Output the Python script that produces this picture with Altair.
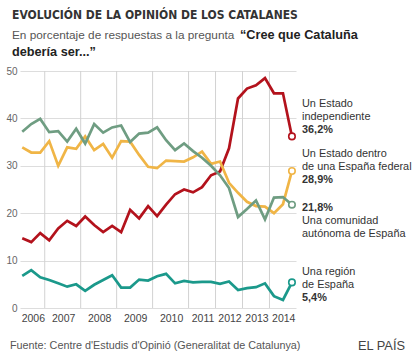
import altair as alt
import pandas as pd

# ---- data ----
survey = list(range(31))
independiente = [14.7, 13.9, 15.8, 14.3, 16.8, 18.4, 17.3, 19.3, 17.5, 16.0, 17.3, 16.0, 20.7, 18.9, 21.5, 19.4,
                 21.8, 24.0, 25.0, 24.4, 25.5, 28.0, 28.8, 33.7, 44.2, 46.3, 47.0, 48.5, 45.3, 45.3, 36.2]
federal = [33.9, 32.8, 32.8, 35.2, 30.0, 33.9, 33.6, 36.2, 33.3, 34.6, 31.7, 35.2, 35.1, 32.3, 29.8, 29.5,
           31.1, 31.0, 30.9, 31.8, 33.0, 30.4, 30.9, 26.4, 24.3, 22.4, 21.5, 21.4, 20.0, 21.9, 28.9]
autonomia = [37.2, 38.8, 39.9, 37.1, 37.3, 35.1, 37.8, 34.7, 38.8, 37.0, 38.1, 38.5, 35.0, 36.8, 37.0, 38.1,
             35.4, 33.3, 34.7, 33.1, 31.7, 30.0, 28.0, 25.3, 19.2, 20.9, 22.7, 18.7, 23.3, 23.4, 21.8]
region = [6.8, 8.0, 6.5, 5.9, 5.2, 4.5, 5.0, 3.6, 4.9, 5.9, 6.9, 4.3, 4.3, 6.0, 5.8, 6.7,
          7.2, 5.2, 5.7, 5.4, 5.5, 5.5, 5.1, 5.6, 3.8, 4.2, 4.4, 5.2, 2.5, 1.7, 5.4]
series_names = ["independiente", "federal", "autonomia", "region"]
series_colors = ["#b3121c", "#f0b546", "#6f9d82", "#1b998b"]
years = ["2006", "2007", "2008", "2009", "2010", "2011", "2012", "2013", "2014"]
year_bounds = [2.5, 6.5, 10.5, 14.5, 18.5, 21.5, 24.5, 27.5]
y_ticks = [0, 10, 20, 30, 40, 50]

X_DOMAIN = [-0.25, 30.45]
W, H = 276, 237

rows = []
for name, vals in zip(series_names, [independiente, federal, autonomia, region]):
    for i, v in zip(survey, vals):
        rows.append({"i": i, "value": v, "serie": name})
df = pd.DataFrame(rows)
last = df[df["i"] == survey[-1]]

edges = [X_DOMAIN[0]] + year_bounds + [X_DOMAIN[1]]
year_df = pd.DataFrame({"year": years, "pos": [(edges[k] + edges[k + 1]) / 2 for k in range(len(years))]})
bound_df = pd.DataFrame({"b": year_bounds})

xs = alt.Scale(domain=X_DOMAIN, nice=False, zero=False)
ys = alt.Scale(domain=[0, 50], nice=False)
cs = alt.Scale(domain=series_names, range=series_colors)

vrules = alt.Chart(bound_df).mark_rule(color="#d2d2d2", strokeWidth=1).encode(
    x=alt.X("b:Q", scale=xs, axis=None),
    y=alt.datum(0, scale=ys),
    y2=alt.datum(50),
)

lines = alt.Chart(df).mark_line(strokeWidth=2.7, strokeJoin="miter").encode(
    x=alt.X("i:Q", scale=xs, axis=None),
    y=alt.Y("value:Q", scale=ys,
            axis=alt.Axis(values=y_ticks, grid=True, gridColor="#dddddd", domain=False, ticks=False,
                          labelPadding=3, labelFontSize=10, labelColor="#666666", title=None,
                          labelFont="Liberation Sans")),
    color=alt.Color("serie:N", scale=cs, legend=None),
    detail="serie:N",
)

ends = alt.Chart(last).mark_point(shape="circle", size=42, fill="white", filled=False,
                                  strokeWidth=1.6, opacity=1, fillOpacity=1).encode(
    x=alt.X("i:Q", scale=xs),
    y=alt.Y("value:Q", scale=ys),
    stroke=alt.Color("serie:N", scale=cs, legend=None),
)

year_text = alt.Chart(year_df).mark_text(fontSize=10.5, color="#444444", font="Liberation Sans",
                                         baseline="middle", dx=1).encode(
    x=alt.X("pos:Q", scale=xs),
    y=alt.value(H + 11),
    text="year:N",
)

SANS = "Liberation Sans"
NARROW = "'Liberation Sans Narrow', 'DejaVu Sans Condensed', sans-serif"


def txt(x, y, text, size=12, weight="normal", color="#333333", align="left", font=SANS, lh=None):
    kw = dict(fontSize=size, fontWeight=weight, color=color, align=align, font=font, baseline="middle")
    if lh is not None:
        kw["lineHeight"] = lh
    return alt.Chart(pd.DataFrame({"a": [0]})).mark_text(**kw).encode(
        x=alt.value(x), y=alt.value(y), text=alt.value(text))


OX, OY = 20, 71  # plot origin in page pixels
LAB_X = 302 - OX
LS = 10.9
labels = [
    txt(12 - OX, 15 - OY, "EVOLUCIÓN DE LA OPINIÓN DE LOS CATALANES", size=12, weight="bold", color="#333333", font=NARROW),
    txt(12 - OX, 35 - OY, "En porcentaje de respuestas a la pregunta", size=11.8, color="#555555"),
    txt(240 - OX, 35 - OY, "“Cree que Cataluña", size=12.7, weight="bold", color="#222222"),
    txt(12 - OX, 52 - OY, "debería ser...”", size=12.7, weight="bold", color="#222222"),
    txt(LAB_X, 103.5 - OY, ["Un Estado", "independiente"], size=LS, lh=13),
    txt(LAB_X, 129.5 - OY, "36,2%", size=LS, weight="bold"),
    txt(LAB_X, 153.5 - OY, ["Un Estado dentro", "de una España federal"], size=LS, lh=13),
    txt(LAB_X, 179.5 - OY, "28,9%", size=LS, weight="bold"),
    txt(LAB_X, 207.5 - OY, "21,8%", size=LS, weight="bold"),
    txt(LAB_X, 221 - OY, ["Una comunidad", "autónoma de España"], size=LS, lh=13),
    txt(LAB_X, 272 - OY, ["Una región", "de España"], size=LS, lh=13),
    txt(LAB_X, 298 - OY, "5,4%", size=LS, weight="bold"),
    txt(10 - OX, 346 - OY, "Fuente: Centre d'Estudis d'Opinió (Generalitat de Catalunya)", size=10.8, color="#555555"),
    txt(405 - OX, 346 - OY, "EL PAÍS", size=12.8, color="#444444", align="right"),
]

chart = alt.layer(vrules, lines, ends, year_text, *labels).properties(
    width=W, height=H,
    autosize=alt.AutoSizeParams(type="none"),
    padding={"left": OX, "top": OY, "right": 414 - OX - W, "bottom": 356 - OY - H},
    background="white",
).configure_view(stroke=None)

chart.save("out.html", embed_options={"renderer": "svg", "actions": False})
